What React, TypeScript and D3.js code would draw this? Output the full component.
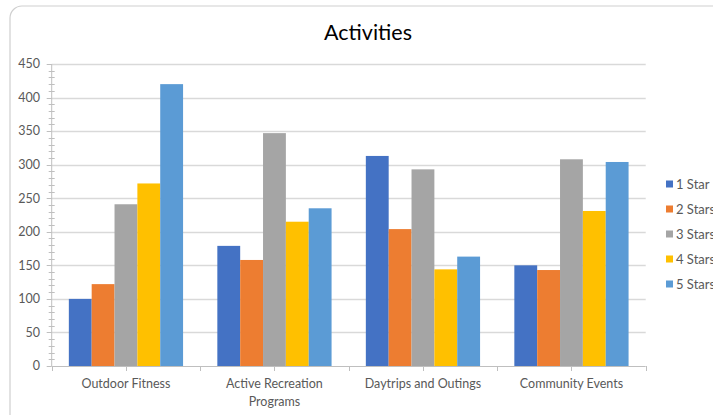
import React, { useEffect, useRef } from "react";
import * as d3 from "d3";

const categories = ["Outdoor Fitness", "Active Recreation Programs", "Daytrips and Outings", "Community Events"];
const seriesNames = ["1 Star", "2 Stars", "3 Stars", "4 Stars", "5 Stars"];
const oneStar = [100, 179, 313, 150];
const twoStars = [122, 158, 204, 143];
const threeStars = [241, 347, 293, 308];
const fourStars = [272, 215, 144, 231];
const fiveStars = [420, 235, 163, 304];
const seriesValues = [oneStar, twoStars, threeStars, fourStars, fiveStars];
const colors = ["#4472C4", "#ED7D31", "#A5A5A5", "#FFC000", "#5B9BD5"];
const yTicks = [0, 50, 100, 150, 200, 250, 300, 350, 400, 450];
const title = "Activities";

const W = 713;
const H = 415;
const FONT = "Lato, 'Open Sans', sans-serif";

export default function App() {
  const ref = useRef<SVGSVGElement>(null);

  useEffect(() => {
    const svg = d3.select(ref.current);
    svg.selectAll("*").remove();

    const left = 51.7, right = 645.7, top = 64, bottom = 366;

    // chart border
    svg.append("rect")
      .attr("x", 10).attr("y", 6)
      .attr("width", W + 20).attr("height", H + 20)
      .attr("rx", 12).attr("ry", 12)
      .attr("fill", "#fff").attr("stroke", "#cfcfcf").attr("stroke-width", 1.2);

    svg.append("text")
      .attr("x", 368).attr("y", 40)
      .attr("text-anchor", "middle")
      .attr("font-family", FONT).attr("font-size", 21.5)
      .attr("fill", "#000")
      .text(title);

    const y = d3.scaleLinear().domain([0, 450]).range([bottom, top]);
    const x0 = d3.scaleBand<string>().domain(categories).range([left, right]).padding(0);
    const cw = x0.bandwidth();
    const bw = cw / 6.5;
    const x1 = d3.scaleBand<string>().domain(seriesNames)
      .range([bw * 0.75, cw - bw * 0.75]).padding(0);

    // gridlines
    svg.append("g").selectAll("line")
      .data(yTicks.filter(t => t > 0))
      .join("line")
      .attr("x1", left).attr("x2", right)
      .attr("y1", d => Math.round(y(d)) + 0.5).attr("y2", d => Math.round(y(d)) + 0.5)
      .attr("stroke", "#d9d9d9").attr("stroke-width", 1.3);

    // minor ticks
    const minor = d3.range(0, 451, 10).filter(v => v % 50 !== 0);
    svg.append("g").selectAll("line")
      .data(minor)
      .join("line")
      .attr("x1", left - 3).attr("x2", left + 3)
      .attr("y1", d => Math.round(y(d)) + 0.5).attr("y2", d => Math.round(y(d)) + 0.5)
      .attr("stroke", "#bfbfbf").attr("stroke-width", 1);
    // major ticks
    svg.append("g").selectAll("line")
      .data(yTicks)
      .join("line")
      .attr("x1", left - 5).attr("x2", left)
      .attr("y1", d => Math.round(y(d)) + 0.5).attr("y2", d => Math.round(y(d)) + 0.5)
      .attr("stroke", "#bfbfbf").attr("stroke-width", 1);

    // y axis line
    svg.append("line")
      .attr("x1", left).attr("x2", left).attr("y1", top).attr("y2", bottom)
      .attr("stroke", "#bfbfbf").attr("stroke-width", 1);

    // y labels
    svg.append("g").selectAll("text")
      .data(yTicks)
      .join("text")
      .attr("x", 40).attr("y", d => y(d))
      .attr("dy", "0.35em")
      .attr("text-anchor", "end")
      .attr("font-family", FONT).attr("font-size", 12.5)
      .attr("fill", "#595959")
      .text(d => d);

    // bars
    const groups = svg.append("g").selectAll("g")
      .data(categories)
      .join("g")
      .attr("transform", c => `translate(${x0(c)},0)`);
    groups.selectAll("rect")
      .data((c, i) => seriesNames.map((s, si) => ({ s, si, v: seriesValues[si][i] })))
      .join("rect")
      .attr("x", d => x1(d.s)!)
      .attr("width", x1.bandwidth())
      .attr("y", d => y(d.v))
      .attr("height", d => bottom - y(d.v))
      .attr("fill", d => colors[d.si]);

    // x axis
    svg.append("line")
      .attr("x1", left).attr("x2", right).attr("y1", bottom + 0.5).attr("y2", bottom + 0.5)
      .attr("stroke", "#bfbfbf").attr("stroke-width", 1);
    const xt: number[] = [];
    categories.forEach(c => { xt.push(x0(c)!); xt.push(x0(c)! + cw / 2); });
    xt.push(right);
    svg.append("g").selectAll("line")
      .data(xt)
      .join("line")
      .attr("x1", d => Math.round(d) + 0.5).attr("x2", d => Math.round(d) + 0.5)
      .attr("y1", bottom).attr("y2", bottom + 5)
      .attr("stroke", "#bfbfbf").attr("stroke-width", 1);

    // category labels with wrap
    const maxW = 128;
    categories.forEach(c => {
      const t = svg.append("text")
        .attr("x", x0(c)! + cw / 2).attr("y", 388)
        .attr("text-anchor", "middle")
        .attr("font-family", FONT).attr("font-size", 12.5)
        .attr("fill", "#595959");
      const words = c.split(" ");
      let line: string[] = [];
      let ts = t.append("tspan").attr("x", x0(c)! + cw / 2).attr("dy", 0);
      words.forEach(w => {
        line.push(w);
        ts.text(line.join(" "));
        if ((ts.node() as SVGTSpanElement).getComputedTextLength() > maxW && line.length > 1) {
          line.pop();
          ts.text(line.join(" "));
          line = [w];
          ts = t.append("tspan").attr("x", x0(c)! + cw / 2).attr("dy", 17.5).text(w);
        }
      });
    });

    // legend
    const lg = svg.append("g").selectAll("g")
      .data(seriesNames)
      .join("g")
      .attr("transform", (d, i) => `translate(666, ${184 + i * 25})`);
    lg.append("rect")
      .attr("x", 0).attr("y", -3.5).attr("width", 7).attr("height", 7)
      .attr("fill", (d, i) => colors[i]);
    lg.append("text")
      .attr("x", 10).attr("y", 0).attr("dy", "0.35em")
      .attr("font-family", FONT).attr("font-size", 13)
      .attr("fill", "#595959")
      .text(d => d);
  }, []);

  return (
    <svg ref={ref} width={W} height={H}
      style={{ position: "absolute", left: 0, top: 0, background: "#fff" }} />
  );
}
